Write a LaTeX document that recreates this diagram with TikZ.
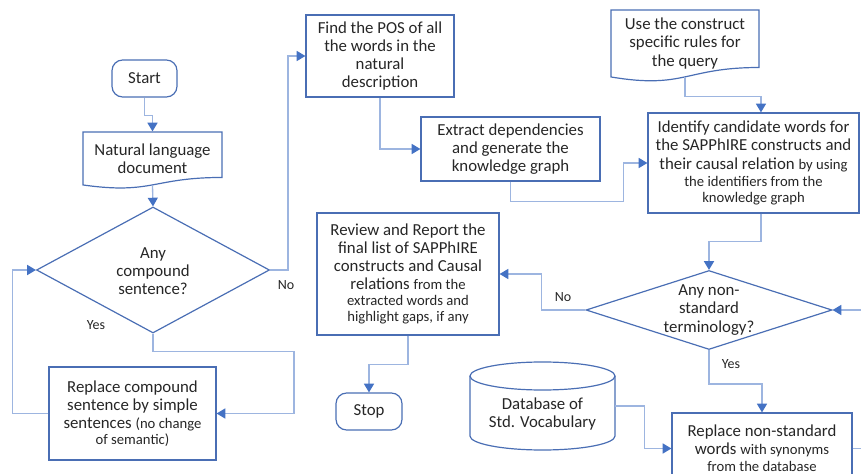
\documentclass[tikz,border=0pt]{standalone}
\usepackage{fontspec}
\setmainfont{Carlito}
\usetikzlibrary{arrows.meta,shapes.geometric}
\definecolor{boxc}{HTML}{4A6EB4}
\definecolor{linec}{HTML}{9DB5E0}
\definecolor{arrc}{HTML}{4472C4}
\definecolor{txtc}{HTML}{262626}
\newcommand\Lf{\fontsize{12.6}{13.6}\selectfont}
\newcommand\Sf{\fontsize{11}{12}\selectfont}
% rectangle node from corners (px)
\newcommand\rbox[7]{\node[box,#6,minimum width={(#4-#2)*0.75pt},minimum height={(#5-#3)*0.75pt}] (#1) at ({(#2+#4)/2},{(#3+#5)/2}) {#7};}
% document shape: name, x1, y1, x2, h, text
\newcommand\docbox[6]{%
  \draw[boxline] (#2,#3) -- (#4,#3) -- (#4,{#3+0.802*#5})
    .. controls ({(#2+#4)/2},{#3+0.802*#5}) and ({(#2+#4)/2},{#3+1.107*#5}) .. (#2,{#3+0.934*#5}) -- cycle;
  \node[box,draw=none,minimum width={(#4-#2)*0.75pt},minimum height={0.933*#5*0.75pt}] (#1) at ({(#2+#4)/2},{#3+0.4665*#5}) {#6};}
\begin{document}
\begin{tikzpicture}[x=0.75pt,y=-0.75pt,
  box/.style={draw=boxc,line width=0.9pt,text=txtc,align=center,inner sep=0pt,font=\Lf},
  boxline/.style={draw=boxc,line width=0.9pt},
  conn/.style={draw=linec,line width=1pt,-{Triangle[length=6.5pt,width=7.5pt,color=arrc]}},
  plainline/.style={draw=linec,line width=1pt},
  lbl/.style={text=txtc,font=\fontsize{10.5}{12}\selectfont,inner sep=0pt},
  dtext/.style={text=txtc,font=\Lf,align=center,inner sep=0pt},
  decision/.style={diamond,draw=boxc,line width=0.9pt,inner sep=0pt},
  terminal/.style={rounded corners=8pt}]
\useasboundingbox (0,0) rectangle (861,474);

% left column
\rbox{start}{112}{60}{177}{97}{terminal}{Start}
\docbox{doc1}{83}{132}{222}{56.7}{Natural language\\document}
\node[decision,minimum width=233*0.75pt,minimum height=126*0.75pt] (d1) at (153,270) {};
\node[dtext] (d1t) at (153,271) {Any\\compound\\sentence?};
\rbox{rc}{49}{367}{216}{460}{}{Replace compound\\sentence by simple\\sentences {\Sf (no change}\\[-1.5pt]{\Sf of semantic)}}

% middle
\rbox{find}{306}{15}{454}{97}{}{Find the POS of all\\the words in the\\natural\\description}
\rbox{extract}{421}{117}{600}{181}{}{Extract dependencies\\and generate the\\knowledge graph}
\rbox{review}{317}{213}{499}{335}{}{Review and Report the\\final list of SAPPhIRE\\constructs and Causal\\relations {\Sf from the}\\[-1.5pt]{\Sf extracted words and}\\[-1.5pt]{\Sf highlight gaps, if any}}
\rbox{stop}{336}{393}{402}{430}{terminal}{Stop}

% database cylinder
\node[inner sep=0pt,minimum width=145*0.75pt,minimum height=88*0.75pt] (db) at (542.5,406) {};
\draw[boxline] (470,376) -- (470,436) arc[start angle=180,end angle=360,x radius=54.375pt,y radius=10.5pt] -- (615,376);
\draw[boxline] (542.5,376) ellipse[x radius=54.375pt,y radius=10.5pt];
\node[dtext] (dbt) at (542.5,414) {Database of\\Std. Vocabulary};

% right column
\docbox{usedoc}{611}{10}{759}{71.7}{Use the construct\\specific rules for\\the query}
\rbox{ident}{648}{113}{859}{213}{}{Identify candidate words for\\the SAPPhIRE constructs and\\their causal relation {\Sf by using}\\[-0.8pt]{\Sf the identifiers from the}\\[-1.5pt]{\Sf knowledge graph}}
\node[decision,minimum width=246*0.75pt,minimum height=79*0.75pt] (d2) at (709,310) {};
\node[dtext] (d2t) at (709,310) {Any non-\\standard\\terminology?};
\rbox{rn}{672}{413}{852}{484}{}{Replace non-standard\\words {\Sf with synonyms}\\[-0.8pt]{\Sf from the database}}
\coordinate (offr) at (880,310);

% connectors
\draw[conn] (start.south) -- ++(0,18) -| (doc1.north);
\draw[conn] (doc1.south) -- (d1.north);
\draw[conn] (d1.east) -- ++(18,0) |- (find.west);
\draw[conn] (d1.south) -- ++(0,18) -- ++(141,0) |- (rc.east);
\draw[conn] (rc.west) -- ++(-36,0) |- (d1.west);
\draw[conn] (find.south) |- (extract.west);
\draw[conn] (extract.south) -- ++(0,20) -- ++(113,0) |- (ident.west);
\draw[conn] (usedoc.south) -- ++(0,19) -| ([xshift=5.6pt]ident.north);
\draw[conn] ([xshift=5.6pt]ident.south) -- ++(0,28) -| (d2.north);
\draw[conn] (d2.west) -- ++(-44,0) |- (review.east);
\draw[conn] (review.south) -- ++(0,29) -| (stop.north);
\draw[conn] (db.east) -- ++(29,0) |- (rn.west);
\draw[conn] (d2.south) -- ++(0,34) -| (rn.north);
\draw[plainline] (rn.east) -- ++(20,0);
\draw[conn] (offr) -- (d2.east);

% labels
\node[lbl] (no1) at (286,285) {No};
\node[lbl] (yes1) at (96,325) {Yes};
\node[lbl] (no2) at (563,297) {No};
\node[lbl] (yes2) at (731,364) {Yes};
\end{tikzpicture}
\end{document}
